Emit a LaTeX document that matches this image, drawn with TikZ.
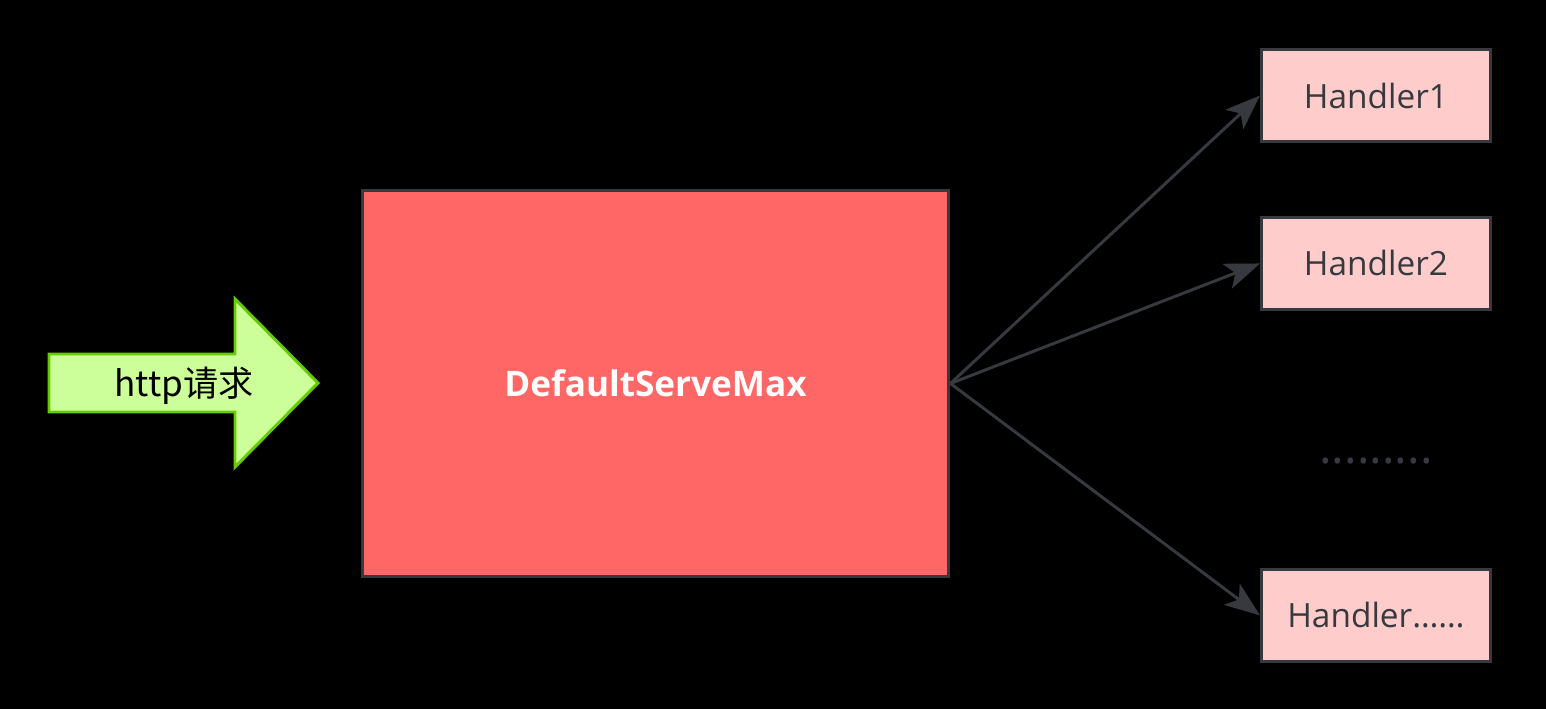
\documentclass[tikz,border=0pt]{standalone}
\usepackage{fontspec}
\setmainfont{Open Sans}
\newfontfamily\cjkfont{Noto Sans CJK SC}
\usetikzlibrary{arrows.meta,positioning}
\definecolor{muxcolor}{HTML}{FF6666}
\definecolor{handlercolor}{HTML}{FFCCCC}
\definecolor{requestcolor}{HTML}{CCFF99}
\definecolor{requestline}{HTML}{66CC00}
\definecolor{edgecolor}{HTML}{36393D}

\begin{document}
\begin{tikzpicture}[
    x=0.02cm, y=-0.02cm,
    mux/.style={rectangle, draw=edgecolor, line width=1.7pt, fill=muxcolor, minimum width=11.74cm, minimum height=7.74cm, font=\fontsize{20}{24}\selectfont\bfseries, text=white},
    handler/.style={rectangle, draw=edgecolor, line width=1.7pt, fill=handlercolor, minimum width=4.58cm, minimum height=1.84cm, font=\fontsize{19}{23}\selectfont, text=edgecolor},
    request/.style={draw=requestline, line width=1.7pt, fill=requestcolor},
    arrow/.style={-{Stealth[length=20pt,width=15pt,inset=5pt]}, line width=1.7pt, draw=edgecolor}
]

% Background
\fill[black] (0,0) rectangle (1546,709);

% Incoming request
\draw[request] (49,354) -- (235,354) -- (235,299) -- (318,383) -- (235,467) -- (235,412) -- (49,412) -- cycle;
\node[font=\fontsize{20}{24}\selectfont\cjkfont, text=black] (req) at (184,386) {http请求};

% Multiplexer
\node[mux] (mux) at (655.5,383.5) {DefaultServeMax};

% Handlers
\node[handler] (h1) at (1376,95.5) {Handler1};
\node[handler, below=1.46cm of h1] (h2) {Handler2};
\node[handler, below=5.14cm of h2] (h3) {Handler……};
\node[font=\fontsize{27}{30}\selectfont, text=edgecolor] (more) at (1376,461) {.........};

% Arrows
\draw[arrow] (mux.east) -- (h1.west);
\draw[arrow] (mux.east) -- (h2.west);
\draw[arrow] (mux.east) -- (h3.west);

\end{tikzpicture}
\end{document}
